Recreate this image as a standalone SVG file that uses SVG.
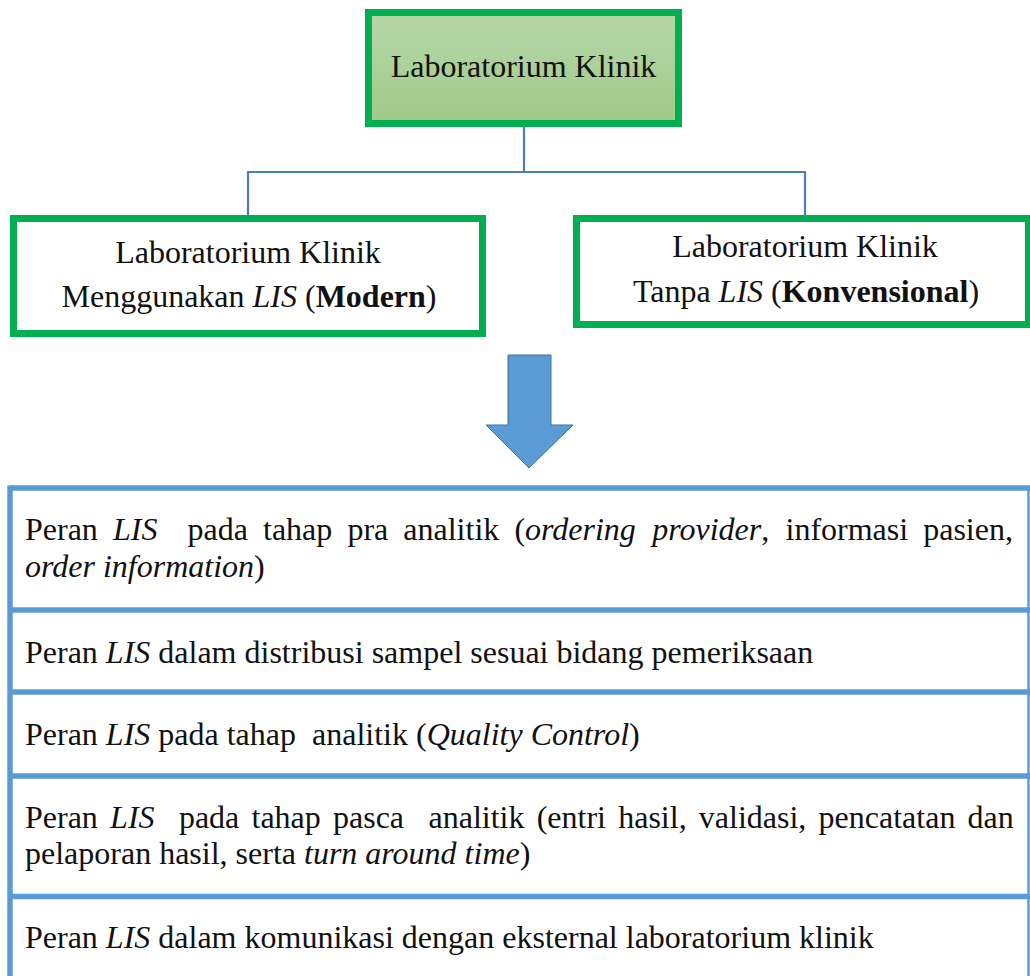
<svg xmlns="http://www.w3.org/2000/svg" width="1030" height="976" viewBox="0 0 1030 976">
<style>
  text { font-family: "Liberation Serif", "Times New Roman", serif; font-size: 32px; fill: #111; }
  .i { font-style: italic; }
  .b { font-weight: bold; }
  .box { fill: #fff; stroke: #00b050; stroke-width: 7; }
  .conn { fill: none; stroke: #4a7ebb; stroke-width: 2.2; }
  .tb { stroke: #5b9bd5; stroke-width: 5.5; fill: none; }
</style>
<defs>
  <linearGradient id="gTop" x1="0" y1="0" x2="0" y2="1">
    <stop offset="0" stop-color="#b6d7a8"/>
    <stop offset="1" stop-color="#a1ca88"/>
  </linearGradient>
</defs>
<rect x="0" y="0" width="1030" height="976" fill="#fff"/>

<g id="connectors">
  <path class="conn" d="M524 127 V172 M248 172 H805 M248 171 V215 M805 171 V215"/>
</g>

<g id="node-top">
  <rect x="368.5" y="12.5" width="310" height="111" fill="url(#gTop)" stroke="#00b050" stroke-width="7"/>
  <text x="523.5" y="77" text-anchor="middle">Laboratorium Klinik</text>
</g>

<g id="node-left">
  <rect class="box" x="13.5" y="218.5" width="469" height="115"/>
  <text x="248" y="263" text-anchor="middle">Laboratorium Klinik</text>
  <text x="249" y="307" text-anchor="middle">Menggunakan <tspan class="i">LIS</tspan> (<tspan class="b">Modern</tspan>)</text>
</g>

<g id="node-right">
  <rect class="box" x="576.5" y="218.5" width="452" height="106"/>
  <text x="805" y="257" text-anchor="middle">Laboratorium Klinik</text>
  <text x="806" y="302" text-anchor="middle">Tanpa <tspan class="i">LIS</tspan> (<tspan class="b">Konvensional</tspan>)</text>
</g>

<g id="arrow">
  <polygon points="508,355 551,355 551,425 573,425 529,468 486,425 508,425" fill="#5b9bd5" stroke="#41719c" stroke-width="1"/>
</g>

<g id="table">
  <line class="tb" x1="10" y1="488" x2="1030" y2="488"/>
  <line class="tb" x1="10" y1="485.5" x2="10" y2="976"/>
  <line x1="1028.5" y1="488" x2="1028.5" y2="976" stroke="#5b9bd5" stroke-width="2.5"/>
  <line class="tb" x1="10" y1="610" x2="1030" y2="610"/>
  <line class="tb" x1="10" y1="692" x2="1030" y2="692"/>
  <line class="tb" x1="10" y1="776" x2="1030" y2="776"/>
  <line class="tb" x1="10" y1="896.5" x2="1030" y2="896.5"/>
</g>

<g id="row-1">
  <text y="540"><tspan x="25">Peran</tspan><tspan x="113" class="i">LIS</tspan><tspan x="187.5">pada</tspan><tspan x="263">tahap</tspan><tspan x="347.4">pra</tspan><tspan x="403.3">analitik</tspan><tspan x="514.4">(</tspan><tspan class="i">ordering</tspan><tspan x="652.2" class="i">provider</tspan><tspan>,</tspan><tspan x="785.5">informasi</tspan><tspan x="923.2">pasien,</tspan></text>
  <text y="577" x="25"><tspan class="i">order information</tspan>)</text>
</g>

<g id="row-2">
  <text x="25" y="663">Peran <tspan class="i">LIS</tspan> dalam distribusi sampel sesuai bidang pemeriksaan</text>
</g>

<g id="row-3">
  <text x="25" y="745" xml:space="preserve">Peran <tspan class="i">LIS</tspan> pada tahap  analitik (<tspan class="i">Quality Control</tspan>)</text>
</g>

<g id="row-4">
  <text y="828"><tspan x="25">Peran</tspan><tspan x="110.1" class="i">LIS</tspan><tspan x="178.9">pada</tspan><tspan x="251.5">tahap</tspan><tspan x="333">pasca</tspan><tspan x="428.5">analitik</tspan><tspan x="536.7">(entri</tspan><tspan x="618.2">hasil,</tspan><tspan x="698.8">validasi,</tspan><tspan x="818.6">pencatatan</tspan><tspan x="967.6">dan</tspan></text>
  <text x="25" y="864">pelaporan hasil, serta <tspan class="i">turn around time</tspan>)</text>
</g>

<g id="row-5">
  <text x="25" y="948">Peran <tspan class="i">LIS</tspan> dalam komunikasi dengan eksternal laboratorium klinik</text>
</g>
</svg>
